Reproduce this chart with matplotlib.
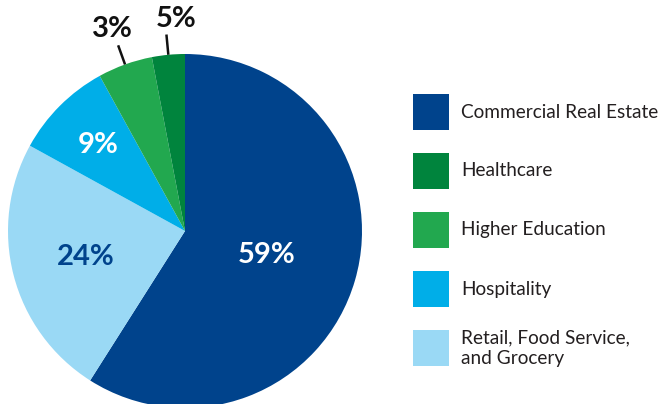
import numpy as np
import matplotlib.pyplot as plt
from matplotlib.patches import Rectangle

# slices in clockwise order from 12 o'clock
slice_names = ['Commercial Real Estate', 'Retail, Food Service,\nand Grocery', 'Hospitality',
               'Higher Education', 'Healthcare']
slice_values = [59, 24, 9, 5, 3]
slice_labels = ['59%', '24%', '9%', '3%', '5%']
slice_colors = ['#00438c', '#9ad9f5', '#00aee8', '#22a84f', '#00843d']
label_colors = ['white', '#00438c', 'white', '#111111', '#111111']

# legend order
legend_names = ['Commercial Real Estate', 'Healthcare', 'Higher Education', 'Hospitality',
                'Retail, Food Service,\nand Grocery']
legend_colors = ['#00438c', '#00843d', '#22a84f', '#00aee8', '#9ad9f5']

W, H = 661, 404
fig = plt.figure(figsize=(W / 100, H / 100), dpi=100)
ax = fig.add_axes([0, 0, 1, 1])

cx, cy, R = 185, H - 231, 177
wedges, _ = ax.pie(slice_values, colors=slice_colors, startangle=90, counterclock=False,
                   center=(cx, cy), radius=R, wedgeprops=dict(linewidth=0))

pct_font = dict(ha='center', va='center', fontsize=21, fontweight='bold',
                fontstyle='normal', family='Lato')

# label distance as fraction of radius
label_dist = [0.48, 0.58, 0.69, 1.21, 1.2]
label_shift = [0, 0, 0, 0, -3]  # degrees
for i, w in enumerate(wedges):
    mid = (w.theta1 + w.theta2) / 2
    ang = np.deg2rad(mid)
    if i >= 3:
        x0, y0 = cx + R * np.cos(ang), cy + R * np.sin(ang)
        x1, y1 = cx + 1.115 * R * np.cos(ang), cy + 1.115 * R * np.sin(ang)
        ax.plot([x0, x1], [y0, y1], color='#111111', lw=1.8, solid_capstyle='butt')
    ang = np.deg2rad(mid + label_shift[i])
    d = label_dist[i] * R
    ax.text(cx + d * np.cos(ang), cy + d * np.sin(ang), slice_labels[i],
            color=label_colors[i], **pct_font)

# legend
for i, (name, col) in enumerate(zip(legend_names, legend_colors)):
    ytop = 94 + i * 59
    ax.add_patch(Rectangle((413, H - ytop - 36), 36, 36, color=col, lw=0))
    ax.text(461, H - ytop - 18, name, ha='left', va='center', fontsize=13.7,
            family='Lato', color='#231f20', linespacing=1.25)

ax.set_xlim(0, W)
ax.set_ylim(0, H)
ax.set_aspect('auto')
ax.axis('off')

fig.savefig('out.png', dpi=100)
